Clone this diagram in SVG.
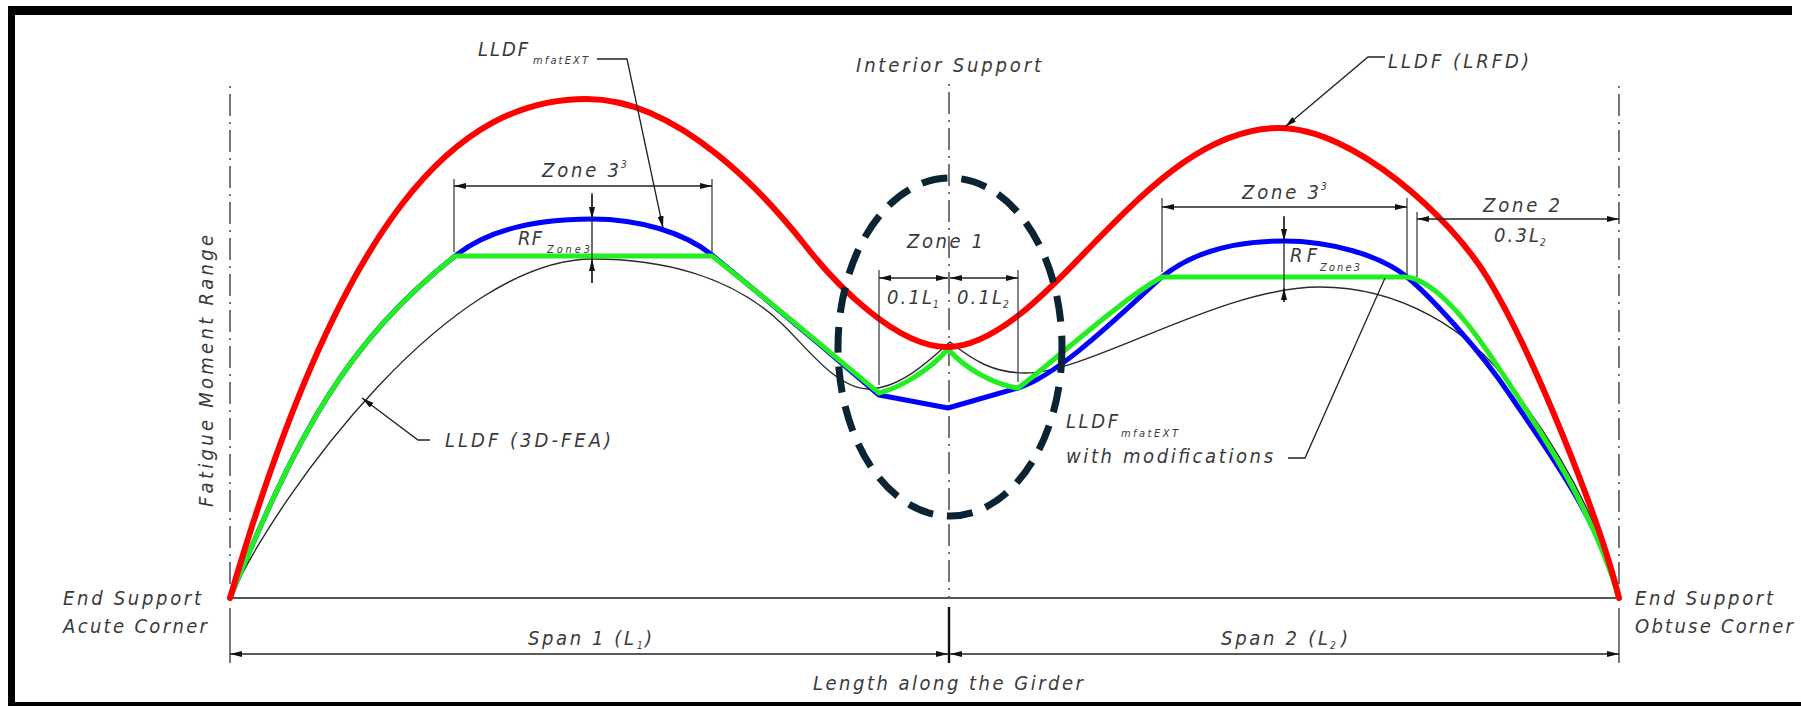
<svg xmlns="http://www.w3.org/2000/svg" width="1801" height="706" viewBox="0 0 1801 706">
<defs>
<style>
.t{font-family:'DejaVu Sans Condensed','DejaVu Sans',sans-serif;font-style:oblique;font-size:20px;fill:#3a3a3a}
.s{font-size:11px}
.sub{font-size:10px}
.dim{stroke:#222;stroke-width:1.3;fill:none}
.ext{stroke:#333;stroke-width:1.2;fill:none}
.cl{stroke:#555;stroke-width:1.6;stroke-dasharray:2 6 22 6;fill:none}
.ld{stroke:#222;stroke-width:1.3;fill:none}
.crv{fill:none;stroke-linejoin:round;stroke-linecap:round}
</style>
<marker id="ah" viewBox="0 0 12 6" refX="12" refY="3" markerWidth="12" markerHeight="6" markerUnits="userSpaceOnUse" orient="auto-start-reverse"><path d="M0,0 L12,3 L0,6 z" fill="#111"/></marker>
</defs>
<rect x="0" y="0" width="1801" height="706" fill="#fff"/>
<g id="frame" fill="#000">
<rect x="8" y="6" width="1784" height="9"/>
<rect x="8" y="6" width="7" height="700"/>
<rect x="8" y="702" width="1793" height="4"/>
</g>
<g id="axes">
<path class="cl" d="M230,86 V598 M949,84 V598 M1619,86 V598"/>
<path d="M230,608 V663 M1619,608 V663" stroke="#333" stroke-width="1.3"/>
<path d="M949,607 V663" stroke="#111" stroke-width="2.4"/>
<path d="M230,598 H1619" stroke="#555" stroke-width="2"/>
</g>
<g id="curves">
<path id="lldf-3dfea" class="crv" stroke="#2a2a2a" stroke-width="1.4" d="M230,598 C280,490 450,259 593,259 C660,259 730,275 780,322 C805,345 835,388 868,389 C900,389 930,360 950,342 C975,362 995,373 1025,373 C1090,373 1220,287 1320,287 C1400,287 1470,330 1510,385 C1560,450 1600,520 1619,598"/>
<path id="lldf-mfatext" class="crv" stroke="#0000ff" stroke-width="5" d="M230,598 C298.4,432.4 345.8,342.8 455,256 C490,228 540,219 592,219 C640,219 685,233 712,255 C745,282 815,340 879,395 L948,408 L1018,388 C1060,375 1125,310 1162,277 C1195,250 1240,241 1284,241 C1330,241 1380,255 1407,277 C1430,296 1480,350 1510,395 C1545,447 1600,520 1619,598"/>
<path id="lldf-mod" class="crv" stroke="#22ee22" stroke-width="5" d="M230,598 C298.4,432.4 345.8,342.8 455,256 L712,256 C745,281 815,340 879,393 C900,388 930,370 948,349 C966,370 996,385 1018,388 C1050,365 1120,300 1162,277 L1407,277 C1430,280 1460,310 1490,355 C1530,415 1590,500 1619,598"/>
<path id="lldf-lrfd" class="crv" stroke="#ff0000" stroke-width="6" d="M230,598 C342,214 457,99 587,99 C680,99 768,198 805,245 C836,285 897,347 947,347 C1002,347 1065,272 1100,237 C1149,187 1209,128 1279,128 C1354,128 1451,218 1487,277 C1534,354 1600,520 1619,598"/>
</g>
<g id="dimensions">
<path class="ext" d="M454,179 V252 M712,179 V252 M1162,198 V272 M1407,198 V275 M1417,212 V277 M879,270 V385 M1018,270 V382"/>
<path class="dim" marker-start="url(#ah)" marker-end="url(#ah)" d="M454,186 H712"/>
<path class="dim" marker-start="url(#ah)" marker-end="url(#ah)" d="M1162,207 H1407"/>
<path class="dim" marker-start="url(#ah)" marker-end="url(#ah)" d="M1417,219 H1619"/>
<path class="dim" marker-start="url(#ah)" marker-end="url(#ah)" d="M879,278 H948"/>
<path class="dim" marker-start="url(#ah)" marker-end="url(#ah)" d="M950,278 H1018"/>
<path class="dim" marker-start="url(#ah)" marker-end="url(#ah)" d="M230,654 H948"/>
<path class="dim" marker-start="url(#ah)" marker-end="url(#ah)" d="M950,654 H1619"/>
<path class="dim" d="M592,193 V283 M1284,216 V302"/>
<path class="dim" marker-end="url(#ah)" d="M592,195 V219"/>
<path class="dim" marker-end="url(#ah)" d="M592,283 V259"/>
<path class="dim" marker-end="url(#ah)" d="M1284,217 V241"/>
<path class="dim" marker-end="url(#ah)" d="M1284,302 V288"/>
</g>
<g id="connectors">
<path class="ld" marker-end="url(#ah)" d="M597,59 H627 L663,228"/>
<path class="ld" marker-end="url(#ah)" d="M1385,57 H1368 L1285,127"/>
<path class="ld" marker-end="url(#ah)" d="M430,440 H418 L362,398"/>
<path class="ld" d="M1288,458 H1305 L1385,278"/>
</g>
<ellipse id="zone1-highlight" cx="950" cy="347" rx="112" ry="169" fill="none" stroke="#0a2433" stroke-width="7" stroke-dasharray="26 14"/>
<g id="labels">
<text class="t" x="478" y="56" textLength="50">LLDF</text>
<text class="t s" x="533" y="64" textLength="55">mfatEXT</text>
<text class="t" x="856" y="72" textLength="185">Interior Support</text>
<text class="t" x="1388" y="68" textLength="141">LLDF (LRFD)</text>
<text class="t" x="542" y="177" textLength="77">Zone 3</text>
<text class="t sub" x="621" y="168">3</text>
<text class="t" x="518" y="245" textLength="24">RF</text>
<text class="t s" x="547" y="253" textLength="43">Zone3</text>
<text class="t" x="1242" y="199" textLength="77">Zone 3</text>
<text class="t sub" x="1321" y="190">3</text>
<text class="t" x="1290" y="262" textLength="27">RF</text>
<text class="t s" x="1320" y="271" textLength="40">Zone3</text>
<text class="t" x="907" y="248" textLength="76">Zone 1</text>
<text class="t" x="887" y="304" textLength="45">0.1L</text>
<text class="t sub" x="933" y="308">1</text>
<text class="t" x="957" y="304" textLength="45">0.1L</text>
<text class="t sub" x="1003" y="308">2</text>
<text class="t" x="1483" y="212" textLength="77">Zone 2</text>
<text class="t" x="1494" y="242" textLength="45">0.3L</text>
<text class="t sub" x="1540" y="246">2</text>
<text class="t" x="445" y="447" textLength="166">LLDF (3D-FEA)</text>
<text class="t" x="1066" y="428" textLength="52">LLDF</text>
<text class="t s" x="1121" y="437" textLength="57">mfatEXT</text>
<text class="t" x="1066" y="463" textLength="207">with modifications</text>
<text class="t" transform="translate(213,507) rotate(-90)" x="0" y="0" textLength="272">Fatigue Moment Range</text>
<text class="t" x="63" y="605" textLength="138">End Support</text>
<text class="t" x="63" y="633" textLength="144">Acute Corner</text>
<text class="t" x="1635" y="605" textLength="138">End Support</text>
<text class="t" x="1635" y="633" textLength="158">Obtuse Corner</text>
<text class="t" x="528" y="645" textLength="106">Span 1 (L</text>
<text class="t sub" x="637" y="649">1</text>
<text class="t" x="645" y="645">)</text>
<text class="t" x="1221" y="645" textLength="107">Span 2 (L</text>
<text class="t sub" x="1330" y="649">2</text>
<text class="t" x="1341" y="645">)</text>
<text class="t" x="813" y="690" textLength="270">Length along the Girder</text>
</g>
</svg>
